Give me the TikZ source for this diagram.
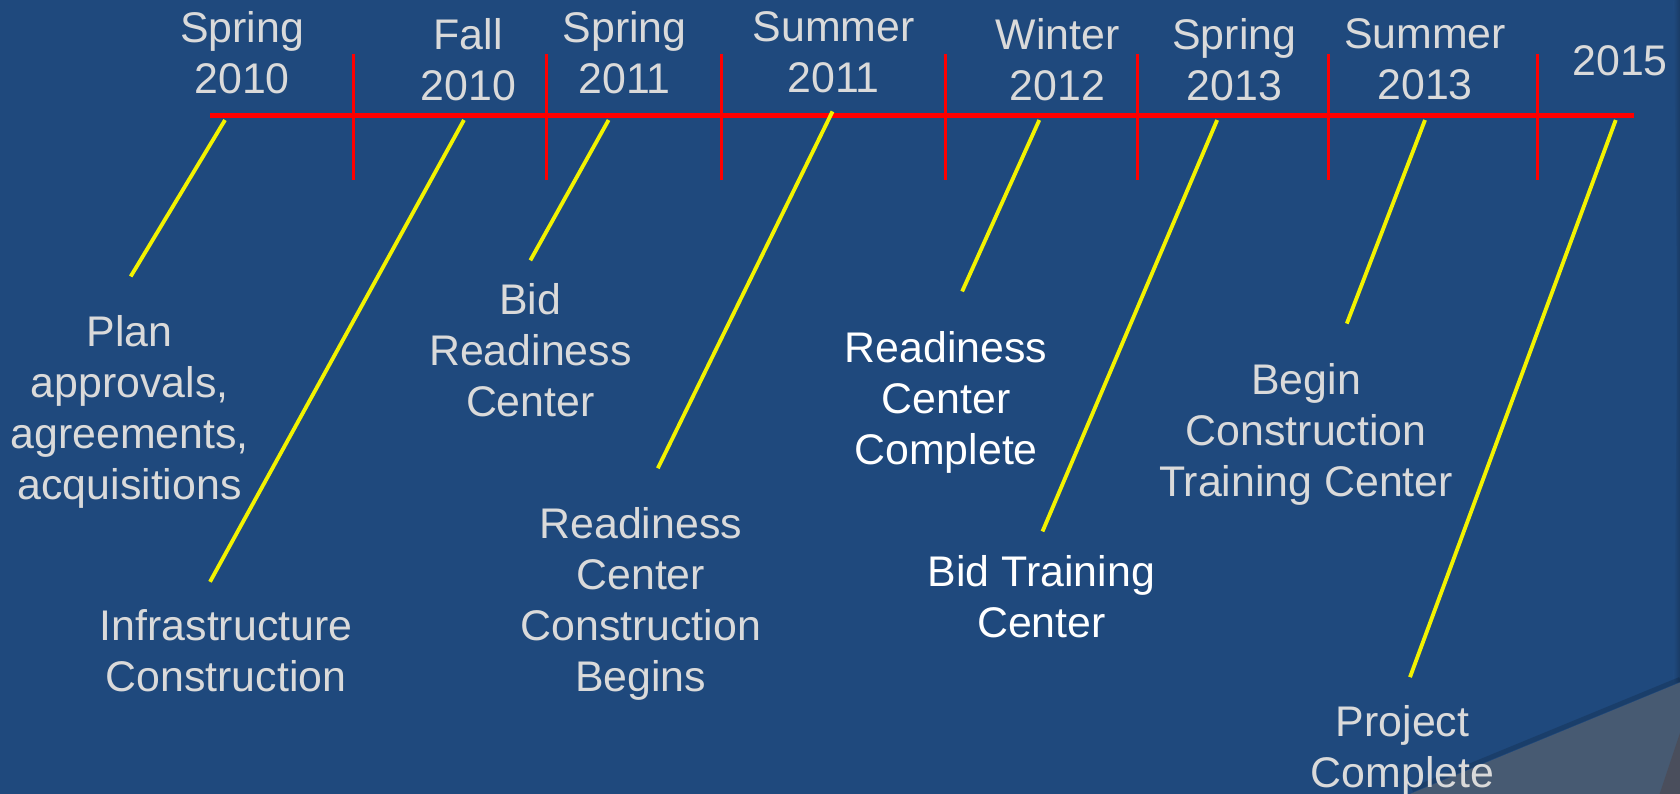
\documentclass[tikz,border=0pt]{standalone}
\usepackage{fontspec}
\setmainfont{Liberation Sans}
\definecolor{bgblue}{HTML}{1F497D}
\definecolor{labelgray}{HTML}{DADADA}
\definecolor{leadyellow}{HTML}{F2F200}
\definecolor{curlgray}{HTML}{475A72}
\definecolor{curldark}{HTML}{4A4E5C}
\begin{document}
\begin{tikzpicture}[x=0.5pt,y=-0.5pt,
  lbl/.style={text=labelgray, font=\fontsize{20}{23.8}\selectfont, align=center, inner sep=0pt, anchor=north},
  wlbl/.style={lbl, text=white},
  axisline/.style={draw=red, line width=2.3pt},
  tickline/.style={draw=red, line width=1.4pt},
  lead/.style={draw=leadyellow, line width=1.8pt}]
% background
\fill[bgblue] (0,0) rectangle (1568,741);
\useasboundingbox (0,0) rectangle (1568,741);
% right-edge shading
\shade[left color=bgblue, right color=bgblue!80!black] (1562,0) .. controls (1566,300) .. (1562,637) -- (1568,637) -- (1568,0) -- cycle;
% page curl
\fill[curlgray] (1316,741) -- (1568,637) -- (1568,741) -- cycle;
\draw[black, opacity=0.15, line width=2.2pt] (1318,737) -- (1568,634);
\fill[curldark] (1549,741) -- (1568,684) -- (1568,741) -- cycle;

% axis
\coordinate (ls) at (196,108);
\coordinate (le) at (1525,108);
\draw[axisline] (ls) -- (le);
\foreach \i/\x in {1/330,2/510,3/673,4/882,5/1062,6/1240,7/1435}{
  \coordinate (tt\i) at (\x,50);
  \coordinate (tb\i) at (\x,168);
  \draw[tickline] (tt\i) -- (tb\i);
}

% period labels
\node[lbl] (p1) at (226,10) {Spring\\2010};
\node[lbl] (p2) at (437,17) {Fall\\2010};
\node[lbl] (p3) at (583,10) {Spring\\2011};
\node[lbl] (p4) at (778,10) {Summer\\2011};
\node[lbl] (p5) at (987,17) {Winter\\2012};
\node[lbl] (p6) at (1152,17) {Spring\\2013};
\node[lbl] (p7) at (1330,17) {Summer\\2013};
\node[lbl] (p8) at (1512,42) {2015};

% event labels
\node[lbl] (e1) at (121,294) {Plan\\approvals,\\agreements,\\acquisitions};
\node[lbl] (e2) at (211,568) {Infrastructure\\Construction};
\node[lbl] (e3) at (495,264) {Bid\\Readiness\\Center};
\node[lbl] (e4) at (598,473) {Readiness\\Center\\Construction\\Begins};
\node[wlbl] (e5) at (883,309) {Readiness\\Center\\Complete};
\node[wlbl] (e6) at (972,518) {Bid Training\\Center};
\node[lbl] (e7) at (1219,339) {Begin\\Construction\\Training Center};
\node[lbl] (e8) at (1309,658) {Project\\Complete};

% leader lines
\coordinate (a1) at (210,112);  \coordinate (b1) at (122,258);
\coordinate (a2) at (433,112);  \coordinate (b2) at (196,543);
\coordinate (a3) at (568,112);  \coordinate (b3) at (495,243);
\coordinate (a4) at (777,104);  \coordinate (b4) at (614,437);
\coordinate (a5) at (970,112);  \coordinate (b5) at (898,272);
\coordinate (a6) at (1136,112); \coordinate (b6) at (973,496);
\coordinate (a7) at (1330,112); \coordinate (b7) at (1257,302);
\coordinate (a8) at (1508,112); \coordinate (b8) at (1316,632);
\foreach \i in {1,...,8}{ \draw[lead] (a\i) -- (b\i); }
\end{tikzpicture}
\end{document}
